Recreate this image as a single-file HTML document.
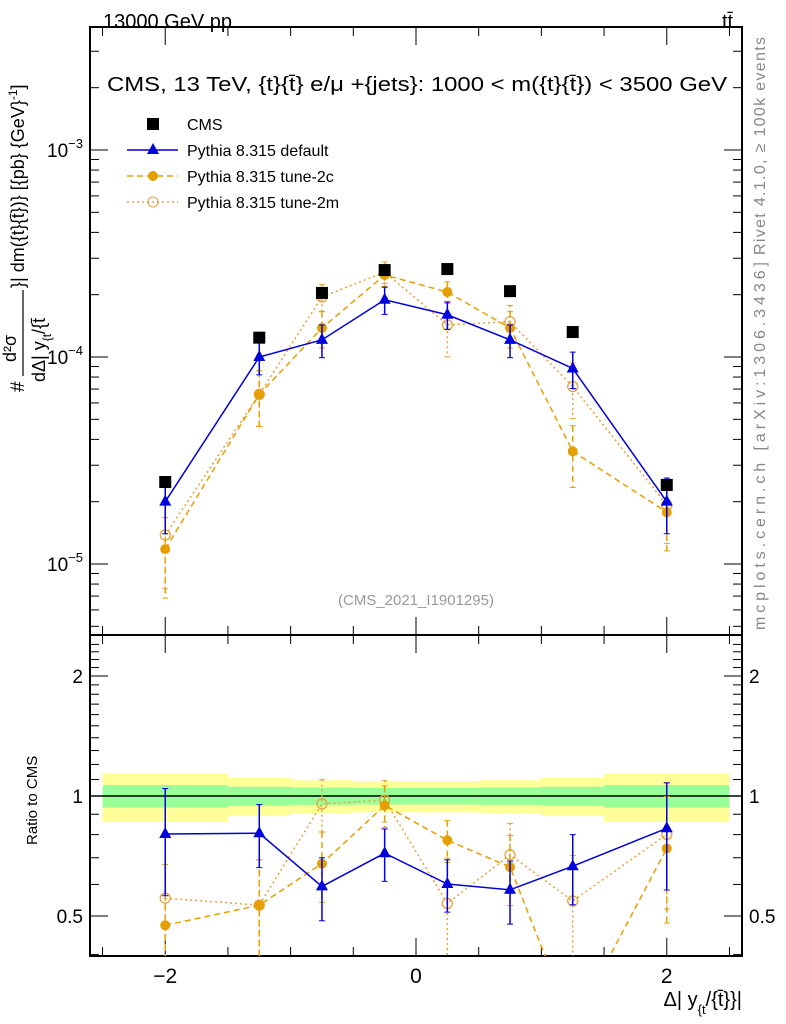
<!DOCTYPE html>
<html><head><meta charset="utf-8"><style>
html,body{margin:0;background:#fff;width:786px;height:1024px;overflow:hidden;position:relative;}
svg{display:block;}
svg text{font-family:"Liberation Sans",sans-serif;}
</style></head><body>
<svg id="c" width="786" height="1024" viewBox="0 0 786 1024" style="position:absolute;left:0;top:0">
</svg>
<script>
const xs=[-2,-1.25,-0.75,-0.25,0.25,0.75,1.25,2];
const binLo=[-2.5,-1.5,-1,-0.5,0,0.5,1,1.5];
const binHi=[-1.5,-1,-0.5,0,0.5,1,1.5,2.5];
const cms=[2.49e-5,1.24e-4,2.04e-4,2.63e-4,2.66e-4,2.08e-4,1.32e-4,2.41e-5];
const cmsStat=[0.065,0.055,0.05,0.048,0.048,0.05,0.055,0.065];
const cmsTot=[0.14,0.11,0.095,0.09,0.09,0.095,0.11,0.14];
const pDef=[2.0e-5,1.0e-4,1.21e-4,1.89e-4,1.6e-4,1.21e-4,8.8e-5,2.0e-5];
const pDefErr=[0.3,0.18,0.18,0.15,0.15,0.18,0.2,0.3];
const p2c=[1.18e-5,6.6e-5,1.38e-4,2.49e-4,2.06e-4,1.38e-4,3.5e-5,1.78e-5];
const p2cErr=[0.42,0.3,0.2,0.12,0.12,0.2,0.33,0.35];
const p2m=[1.38e-5,6.6e-5,1.95e-4,2.57e-4,1.43e-4,1.48e-4,7.2e-5,1.93e-5];
const p2mErr=[0.45,0.3,0.15,0.12,0.3,0.2,0.3,0.35];
const yTickExp=[-3,-4,-5];

const svg=document.getElementById('c');
const NS='http://www.w3.org/2000/svg';
function el(t,a,p){const e=document.createElementNS(NS,t);for(const k in a)e.setAttribute(k,a[k]);(p||svg).appendChild(e);return e;}
const L=90,R=742,T=27,M=635,B=956;
const X=v=>L+(v+2.6)/5.2*(R-L);
const Y=v=>150-(Math.log10(v)+3)*207;
const RY=v=>796-Math.log2(v)*120;

for(let i=0;i<xs.length;i++){
 let r=el('rect',{x:X(binLo[i]),y:RY(1+cmsTot[i]),width:X(binHi[i])-X(binLo[i]),height:RY(1-cmsTot[i])-RY(1+cmsTot[i]),fill:'#ffff99'});
 
 r=el('rect',{x:X(binLo[i]),y:RY(1+cmsStat[i]),width:X(binHi[i])-X(binLo[i]),height:RY(1-cmsStat[i])-RY(1+cmsStat[i]),fill:'#99ff99'});
 
}
el('line',{x1:L,x2:R,y1:RY(1),y2:RY(1),stroke:'#000','stroke-width':1.5});

el('rect',{x:L,y:T,width:R-L,height:M-T,fill:'none',stroke:'#000','stroke-width':2});
el('rect',{x:L,y:M,width:R-L,height:B-M,fill:'none',stroke:'#000','stroke-width':2});

for(let d=-6;d<=-2;d++)for(let m=1;m<10;m++){const v=m*Math.pow(10,d);const y=Y(v);if(y<T||y>M)continue;const len=m==1?18:9;
 el('line',{x1:L,x2:L+len,y1:y,y2:y,stroke:'#000','stroke-width':1});el('line',{x1:R,x2:R-len,y1:y,y2:y,stroke:'#000','stroke-width':1});}
yTickExp.forEach(e=>{const y=Y(Math.pow(10,e));const t=el('text',{x:83,y:y+7,'font-size':19,'text-anchor':'end'});t.innerHTML='10<tspan dy="-9" font-size="13">−'+(-e)+'</tspan>';});
for(let v=0.4;v<=2.5;v+=0.1){const y=RY(v);if(y<M||y>B)continue;const maj=Math.abs(v-0.5)<1e-6||Math.abs(v-1)<1e-6||Math.abs(v-2)<1e-6;const len=maj?18:9;
 el('line',{x1:L,x2:L+len,y1:y,y2:y,stroke:'#000'});el('line',{x1:R,x2:R-len,y1:y,y2:y,stroke:'#000'});}
[[2,'2'],[1,'1'],[0.5,'0.5']].forEach(([v,s])=>{let t=el('text',{x:83,y:RY(v)+7,'font-size':19,'text-anchor':'end'});t.textContent=s;
 t=el('text',{x:749,y:RY(v)+7,'font-size':19});t.textContent=s;});
for(let v=-2.5;v<=2.5;v+=0.5){const x=X(v);const maj=Math.abs(v-Math.round(v/2)*2)<1e-6;const len=maj?18:9;
 [T,M].forEach(y0=>el('line',{x1:x,x2:x,y1:y0,y2:y0+len,stroke:'#000'}));[M,B].forEach(y0=>el('line',{x1:x,x2:x,y1:y0,y2:y0-len,stroke:'#000'}));}
[[-2,'−2'],[0,'0'],[2,'2']].forEach(([v,s])=>{const t=el('text',{x:X(v),y:983,'font-size':21,'text-anchor':'middle'});t.textContent=s;});

const defs=el('defs',{});
el('rect',{x:L,y:T,width:R-L,height:M-T},el('clipPath',{id:'cm'},defs));
el('rect',{x:L,y:M,width:R-L,height:B-M},el('clipPath',{id:'cr'},defs));
const gm=el('g',{'clip-path':'url(#cm)'}),gr=el('g',{'clip-path':'url(#cr)'});

function series(g,vals,errs,yf,color,dash,marker,name){
 const pts=xs.map((x,i)=>[X(x),yf(vals[i])]);
 const pl=el('polyline',{points:pts.map(p=>p.join(',')).join(' '),fill:'none',stroke:color,'stroke-width':1.5,'stroke-dasharray':dash},g);
 
 xs.forEach((x,i)=>{const cx=X(x),v=vals[i];
  const y1=yf(v*(1+errs[i])),y2=yf(v*Math.max(0.05,1-errs[i]));
  el('line',{x1:cx,x2:cx,y1:y1,y2:y2,stroke:color,'stroke-width':1.5,'stroke-dasharray':dash},g);
  el('line',{x1:cx-3,x2:cx+3,y1:y1,y2:y1,stroke:color},g);el('line',{x1:cx-3,x2:cx+3,y1:y2,y2:y2,stroke:color},g);
  const cy=yf(v);let m;
  if(marker=='tri')m=el('polygon',{points:`${cx},${cy-7} ${cx-6},${cy+4} ${cx+6},${cy+4}`,fill:color},g);
  else if(marker=='dot')m=el('circle',{cx,cy,r:5,fill:color},g);
  else m=el('circle',{cx,cy,r:5,fill:'none',stroke:color,'stroke-width':1.3},g);
  
 });
}
series(gm,p2m,p2mErr,Y,'#e8a040','2,3','circ','tune-2m');
series(gm,p2c,p2cErr,Y,'#e69f00','6,4','dot','tune-2c');
series(gm,pDef,pDefErr,Y,'#0000dd','','tri','default');
xs.forEach((x,i)=>{const r=el('rect',{x:X(x)-6,y:Y(cms[i])-6,width:12,height:12,fill:'#000'},gm);});
const rat=a=>a.map((v,i)=>v/cms[i]);
series(gr,rat(p2m),p2mErr,RY,'#e8a040','2,3','circ','ratio-tune-2m');
series(gr,rat(p2c),p2cErr,RY,'#e69f00','6,4','dot','ratio-tune-2c');
series(gr,rat(pDef),pDefErr,RY,'#0000dd','','tri','ratio-default');

const leg=[['CMS','#000','','sq'],['Pythia 8.315 default','#0000dd','','tri'],['Pythia 8.315 tune-2c','#e69f00','6,4','dot'],['Pythia 8.315 tune-2m','#e8a040','2,3','circ']];
leg.forEach((e,i)=>{const y=124+i*26;const g=el('g',{});
 if(e[3]!='sq')el('line',{x1:127,x2:178,y1:y,y2:y,stroke:e[1],'stroke-width':1.5,'stroke-dasharray':e[2]},g);
 if(e[3]=='sq')el('rect',{x:147,y:y-6,width:12,height:12,fill:'#000'},g);
 else if(e[3]=='tri')el('polygon',{points:`153,${y-7} 147,${y+4} 159,${y+4}`,fill:e[1]},g);
 else if(e[3]=='dot')el('circle',{cx:153,cy:y,r:5,fill:e[1]},g);
 else el('circle',{cx:153,cy:y,r:5,fill:'none',stroke:e[1]},g);
 const t=el('text',{x:187,y:y+6,'font-size':16},g);t.textContent=e[0];});
</script>
<svg width="786" height="1024" style="position:absolute;left:0;top:0">
<text x="103" y="28" font-size="20">13000 GeV pp</text>
<text x="722" y="28" font-size="20">tt̄</text>
<text x="107" y="91" font-size="20" textLength="620" lengthAdjust="spacingAndGlyphs">CMS, 13 TeV, {t}{t̄} e/μ +{jets}: 1000 &lt; m({t}{t̄}) &lt; 3500 GeV</text>
<text x="416" y="605" font-size="15" fill="#999" text-anchor="middle">(CMS_2021_I1901295)</text>
<text transform="translate(765,255) rotate(-90)" font-size="16" fill="#888" textLength="218" lengthAdjust="spacing">Rivet 4.1.0, ≥ 100k events</text>
<text transform="translate(765,630) rotate(-90)" font-size="16" fill="#888" textLength="368" lengthAdjust="spacing">mcplots.cern.ch [arXiv:1306.3436]</text>
<g>
<text transform="translate(24,392) rotate(-90)" font-size="19">#</text>
<text transform="translate(16,362) rotate(-90)" font-size="18">d²σ</text>
<line x1="23" x2="23" y1="290" y2="376" stroke="#000" stroke-width="1.2"/>
<text transform="translate(45,382) rotate(-90)" font-size="18">dΔ| y<tspan font-size="12" dy="6">{t</tspan><tspan dy="-6">/{t̄</tspan></text>
<text transform="translate(24,288) rotate(-90)" font-size="18">}| dm({t}{t̄})} [{pb} {GeV}<tspan font-size="12" dy="-7">-1</tspan><tspan dy="7">]</tspan></text>
</g>
<text transform="translate(37,845) rotate(-90)" font-size="15">Ratio to CMS</text>
<text x="742" y="1006" font-size="20" text-anchor="end">Δ| y<tspan font-size="13" dy="8">{t</tspan><tspan dy="-8">/{t̄}}|</tspan></text>
</svg>
</body></html>
